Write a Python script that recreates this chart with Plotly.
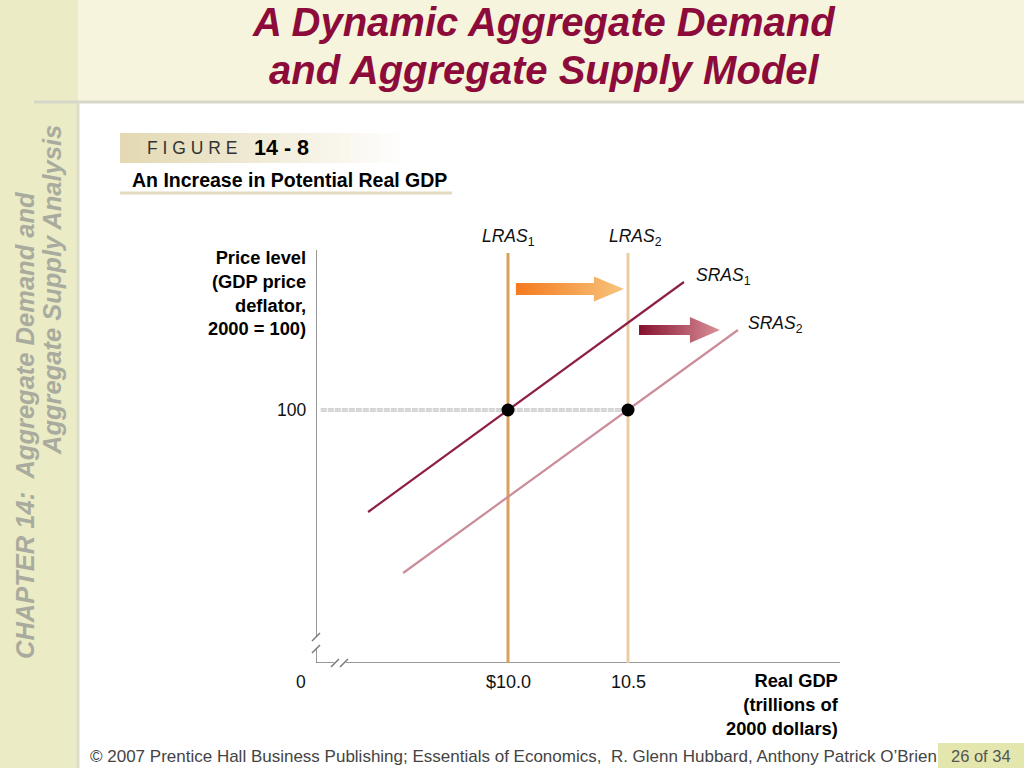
import plotly.graph_objects as go

W, H = 1024, 768

# ---------------- data ----------------
gdp_tick_vals = [10.0, 10.5]
gdp_tick_text = ["$10.0", "10.5"]
price_tick_vals = [100]
price_tick_text = ["100"]

lras_x = [10.0, 10.5]
lras_labels = ["<i>LRAS</i><sub>1</sub>", "<i>LRAS</i><sub>2</sub>"]
lras_colors = ["#D9A05C", "#E9CDA3"]

sras1_x = [9.417, 10.733]
sras1_y = [79.6, 125.6]
sras2_x = [9.563, 10.958]
sras2_y = [67.4, 116.0]

eq_x = [10.0, 10.5]
eq_y = [100, 100]

# shift arrows: start x, end x, level
lras_shift = [10.033, 10.483, 124.2]
sras_shift = [10.546, 10.883, 116.0]

# ---------------- scales ----------------
X_RANGE = [9.2, 11.3833]
Y_RANGE = [49.4, 132.0]
LRAS_TOP = 131.4


def px(x):
    return x / W


def py(y):
    return 1 - y / H


fig = go.Figure()

# axis lines with breaks
x_gap = [9.2 + (334 - 316) / 240, 9.2 + (346 - 316) / 240]
y_gap = [100 - (637 - 410) / 5, 100 - (649 - 410) / 5]
fig.add_trace(go.Scatter(
    x=[X_RANGE[0], x_gap[0], None, x_gap[1], X_RANGE[1]],
    y=[Y_RANGE[0]] * 2 + [None] + [Y_RANGE[0]] * 2,
    mode="lines", line=dict(color="#777777", width=1.5), hoverinfo="skip"))
fig.add_trace(go.Scatter(
    x=[X_RANGE[0]] * 2 + [None] + [X_RANGE[0]] * 2,
    y=[Y_RANGE[0], y_gap[1], None, y_gap[0], Y_RANGE[1]],
    mode="lines", line=dict(color="#777777", width=1.5), hoverinfo="skip"))

# dashed guide at price 100 (double-line look)
fig.add_trace(go.Scatter(
    x=[X_RANGE[0] + 0.02, eq_x[1]], y=[eq_y[0], eq_y[1]],
    mode="lines", line=dict(color="#C4C4C4", width=3.5, dash="6px,1px"),
    hoverinfo="skip"))
fig.add_trace(go.Scatter(
    x=[X_RANGE[0] + 0.02, eq_x[1]], y=[eq_y[0], eq_y[1]],
    mode="lines", line=dict(color="#EFEFEF", width=1),
    hoverinfo="skip"))

# LRAS lines
for lx, col in zip(lras_x, lras_colors):
    fig.add_trace(go.Scatter(
        x=[lx, lx], y=[Y_RANGE[0], LRAS_TOP], mode="lines",
        line=dict(color=col, width=3), hoverinfo="skip"))

# SRAS lines
fig.add_trace(go.Scatter(x=sras1_x, y=sras1_y, mode="lines",
                         line=dict(color="#8E1F46", width=2.2), hoverinfo="skip"))
fig.add_trace(go.Scatter(x=sras2_x, y=sras2_y, mode="lines",
                         line=dict(color="#CB8D9A", width=2.2), hoverinfo="skip"))


def arrow_poly(x0, x1, yc, body_h, head_h, head_len):
    xb = x1 - head_len
    xs = [x0, xb, xb, x1, xb, xb, x0, x0]
    ys = [yc - body_h, yc - body_h, yc - head_h, yc, yc + head_h,
          yc + body_h, yc + body_h, yc - body_h]
    return xs, ys


ax, ay = arrow_poly(lras_shift[0], lras_shift[1], lras_shift[2], 1.2, 2.5, 0.125)
fig.add_trace(go.Scatter(
    x=ax, y=ay, mode="none", fill="toself",
    fillgradient=dict(type="horizontal",
                      colorscale=[[0, "#F47A1E"], [1, "#F7C47C"]]),
    hoverinfo="skip"))
ax, ay = arrow_poly(sras_shift[0], sras_shift[1], sras_shift[2], 1.0, 2.6, 0.125)
fig.add_trace(go.Scatter(
    x=ax, y=ay, mode="none", fill="toself",
    fillgradient=dict(type="horizontal",
                      colorscale=[[0, "#86112F"], [1, "#DB9099"]]),
    hoverinfo="skip"))

# equilibrium points
fig.add_trace(go.Scatter(x=eq_x, y=eq_y, mode="markers",
                         marker=dict(color="black", size=13), hoverinfo="skip"))

# ---------------- decorations ----------------
shapes = []
shapes.append(dict(type="rect", xref="paper", yref="paper", x0=px(0), x1=px(78),
                   y0=py(768), y1=py(0), fillcolor="#EBEBC5", line_width=0, layer="below"))
shapes.append(dict(type="rect", xref="paper", yref="paper", x0=px(78), x1=px(1024),
                   y0=py(101), y1=py(0), fillcolor="#F6F4DC", line_width=0, layer="below"))
shapes.append(dict(type="line", xref="paper", yref="paper", x0=px(34), x1=px(1024),
                   y0=py(102), y1=py(102), line=dict(color="#D6D7C8", width=3), layer="below"))
shapes.append(dict(type="line", xref="paper", yref="paper", x0=px(78), x1=px(78),
                   y0=py(102), y1=py(768), line=dict(color="#DCDCCB", width=3), layer="below"))
shapes.append(dict(type="rect", xref="paper", yref="paper", x0=px(938), x1=px(1024),
                   y0=py(768), y1=py(743), fillcolor="#E4E7AD", line_width=0, layer="below"))
n = 29
for i in range(n):
    t = i / (n - 1)
    r = int(0xE4 + (0xFF - 0xE4) * t)
    g = int(0xD9 + (0xFF - 0xD9) * t)
    b = int(0xB2 + (0xFF - 0xB2) * t)
    shapes.append(dict(type="rect", xref="paper", yref="paper",
                       x0=px(120 + i * 10), x1=px(131 + i * 10),
                       y0=py(163), y1=py(133),
                       fillcolor=f"rgb({r},{g},{b})", line_width=0, layer="below"))
shapes.append(dict(type="line", xref="paper", yref="paper", x0=px(120), x1=px(452),
                   y0=py(193), y1=py(193), line=dict(color="#E2DBBE", width=3), layer="below"))
for (x0, y0, x1, y1) in [(312, 641, 320, 633), (312, 653, 320, 645),
                         (331, 667, 339, 659), (340, 667, 348, 659)]:
    shapes.append(dict(type="line", xref="paper", yref="paper", x0=px(x0), x1=px(x1),
                       y0=py(y0), y1=py(y1), line=dict(color="#777777", width=1.5)))

FONT = "Liberation Sans, Arial, Helvetica, sans-serif"
ann = []


def A(text, x, y, size, color="#000000", xanchor="center", yanchor="middle",
      align="center", xref="paper", yref="paper", **kw):
    ann.append(dict(text=text, x=x, y=y, xref=xref, yref=yref, showarrow=False,
                    xanchor=xanchor, yanchor=yanchor, align=align,
                    font=dict(family=FONT, size=size, color=color), **kw))


# title
A("<b><i>A Dynamic Aggregate Demand</i></b>", px(544), py(22), 40, color="#8C0B3A")
A("<b><i>and Aggregate Supply Model</i></b>", px(544), py(70), 40, color="#8C0B3A")
# sidebar
A("<b><i>CHAPTER 14:\u00a0 Aggregate Demand and</i></b>", px(25), py(425), 25.5,
  color="#A9AB9E", textangle=-90)
A("<b><i>Aggregate Supply Analysis</i></b>", px(52), py(290), 25.5,
  color="#A9AB9E", textangle=-90)
# figure label
A("F I G U R E", px(145), py(148), 17.5, color="#333333", xanchor="left")
A("<b>14 - 8</b>", px(252), py(148), 21.5, xanchor="left")
A("<b>An Increase in Potential Real GDP</b>", px(130), py(180), 19.5, xanchor="left")
# axis titles
A("<b>Price level<br>(GDP price<br>deflator,<br>2000 = 100)</b>", px(308), py(292.5),
  18.3, xanchor="right", align="right")
A("<b>Real GDP<br>(trillions of<br>2000 dollars)</b>", px(841), py(704),
  18.3, xanchor="right", align="right")
# tick labels
for v, t in zip(price_tick_vals, price_tick_text):
    A(t, px(308), v, 17.5, color="#111111", xanchor="right", yref="y")
A("0", px(301), py(682), 17.5, color="#111111")
for v, t in zip(gdp_tick_vals, gdp_tick_text):
    A(t, v, py(682), 18, color="#111111", xref="x")
# curve labels
for v, t, sh in zip(lras_x, lras_labels, [0, 7]):
    A(t, v, py(238), 17.5, color="#111111", xref="x", xshift=sh)
A("<i>SRAS</i><sub>1</sub>", px(694), py(276), 17.5, color="#111111", xanchor="left")
A("<i>SRAS</i><sub>2</sub>", px(746), py(325), 17.5, color="#111111", xanchor="left")
# footer
A("\u00a9 2007 Prentice Hall Business Publishing; Essentials of Economics,\u00a0 "
  "R. Glenn Hubbard, Anthony Patrick O\u2019Brien", px(88), py(756), 17,
  color="#444444", xanchor="left")
A("26 of 34", px(981), py(756), 16.5, color="#555555")

fig.update_layout(
    width=W, height=H,
    margin=dict(l=0, r=0, t=0, b=0),
    paper_bgcolor="white", plot_bgcolor="rgba(0,0,0,0)",
    showlegend=False,
    xaxis=dict(domain=[316 / W, 840 / W], range=X_RANGE, visible=False, fixedrange=True),
    yaxis=dict(domain=[105 / H, 518 / H], range=Y_RANGE, visible=False, fixedrange=True),
    shapes=shapes, annotations=ann,
)

fig.write_html("out.html", post_script="document.body.style.margin='0';",
               config={"displayModeBar": False})
